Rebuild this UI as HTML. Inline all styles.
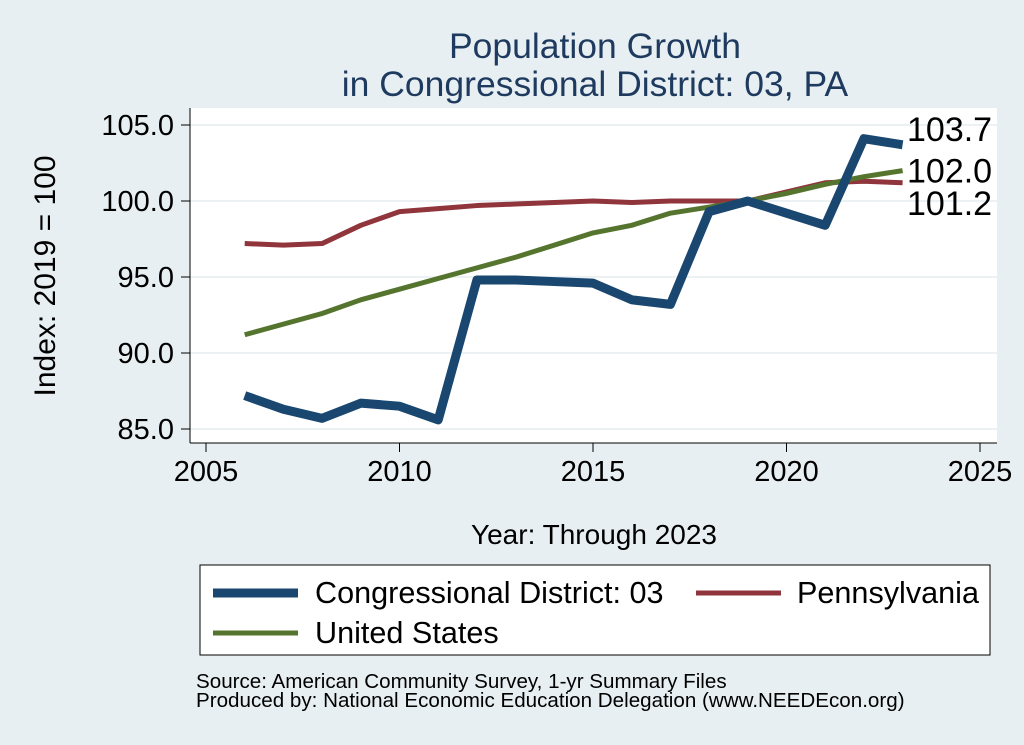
<!DOCTYPE html>
<html><head><meta charset="utf-8"><style>
body{margin:0;background:#e8eff2;}
svg{display:block;font-family:"Liberation Sans",Arial,sans-serif;}
</style></head><body>
<svg id="c" width="1024" height="745" viewBox="0 0 1024 745">
<rect x="0" y="0" width="1024" height="745" fill="#e8eff2"/>
<text x="595" y="58" font-size="35.5" fill="#1e3a5f" text-anchor="middle">Population Growth</text>
<text x="595" y="96" font-size="35.5" fill="#1e3a5f" text-anchor="middle">in Congressional District: 03, PA</text>
<rect x="190" y="108" width="807" height="335" fill="#fff"/>
<g id="grid"></g><g id="axes"></g><g id="series"></g><g id="labels"></g>
<text x="594" y="544" font-size="28" text-anchor="middle" fill="#000">Year: Through 2023</text>
<text transform="translate(55,276) rotate(-90)" font-size="30" text-anchor="middle" fill="#000">Index: 2019 = 100</text>
<g>
<rect x="200" y="565" width="790" height="90" fill="#fff" stroke="#000" stroke-width="1"/>
<line x1="213" y1="593" x2="298" y2="593" stroke="#1a476f" stroke-width="9"/>
<text x="315" y="603" font-size="30.6">Congressional District: 03</text>
<line x1="696" y1="593" x2="781" y2="593" stroke="#90353b" stroke-width="5"/>
<text x="797" y="603" font-size="30.6">Pennsylvania</text>
<line x1="213" y1="633" x2="298" y2="633" stroke="#55752f" stroke-width="5"/>
<text x="315" y="643" font-size="30.6">United States</text>
</g>
<text x="196" y="688" font-size="20.6">Source: American Community Survey, 1-yr Summary Files</text>
<text x="196" y="707" font-size="20.6">Produced by: National Economic Education Delegation (www.NEEDEcon.org)</text>
</svg>
<script>
const years=[2006,2007,2008,2009,2010,2011,2012,2013,2014,2015,2016,2017,2018,2019,2020,2021,2022,2023];
const district=[87.2,86.3,85.7,86.7,86.5,85.6,94.8,94.8,94.7,94.6,93.5,93.2,99.3,100,99.2,98.4,104.1,103.7];
const pennsylvania=[97.2,97.1,97.2,98.4,99.3,99.5,99.7,99.8,99.9,100,99.9,100,100,100,100.6,101.2,101.3,101.2];
const unitedStates=[91.2,91.9,92.6,93.5,94.2,94.9,95.6,96.3,97.1,97.9,98.4,99.2,99.6,100,100.5,101.1,101.6,102.0];
const yTicks=[85,90,95,100,105];
const xTicks=[2005,2010,2015,2020,2025];
const NS="http://www.w3.org/2000/svg";
function xs(v){return 206+(v-2005)*(980-206)/20;}
function ys(v){return 429-(v-85)*(429-125)/20;}
function mk(tag,attrs,parent){const e=document.createElementNS(NS,tag);for(const k in attrs)e.setAttribute(k,attrs[k]);document.getElementById(parent).appendChild(e);return e;}
yTicks.forEach(t=>{
 const g=mk('line',{x1:190,x2:997,y1:ys(t),y2:ys(t),stroke:'#e6eef1','stroke-width':1.5},'grid');
 
 
 const tk=mk('line',{x1:181,x2:190,y1:ys(t),y2:ys(t),stroke:'#000'},'axes');
 
 
 const tx=mk('text',{x:174,y:ys(t)+10,'font-size':29,'text-anchor':'end'},'axes');
 tx.textContent=t.toFixed(1);
 
 
});
xTicks.forEach(t=>{
 const tk=mk('line',{x1:xs(t),x2:xs(t),y1:443,y2:452,stroke:'#000'},'axes');
 
 
 const tx=mk('text',{x:xs(t),y:481,'font-size':29,'text-anchor':'middle'},'axes');
 tx.textContent=t;
 
 
});
const ya=mk('line',{x1:190,x2:190,y1:108,y2:443,stroke:'#000'},'axes');


const xa=mk('line',{x1:190,x2:997,y1:443,y2:443,stroke:'#000'},'axes');


function line(vals,color,w,name){
 const p=mk('polyline',{points:vals.map((v,i)=>xs(years[i])+','+ys(v)).join(' '),fill:'none',stroke:color,'stroke-width':w,'stroke-linejoin':'round'},'series');
 
 
}
line(pennsylvania,'#90353b',5,'pennsylvania-line');
line(unitedStates,'#55752f',5,'us-line');
line(district,'#1a476f',9,'district-line');
const last=years.length-1;
[[district,-4,'district-end-label'],[unitedStates,12,'us-end-label'],[pennsylvania,32,'pa-end-label']].forEach(([arr,dy,nm])=>{
 const v=arr[last];
 const t=mk('text',{x:907,y:ys(v)+dy,'font-size':34},'labels');
 t.textContent=v.toFixed(1);
 
 
});
</script>
</body></html>
